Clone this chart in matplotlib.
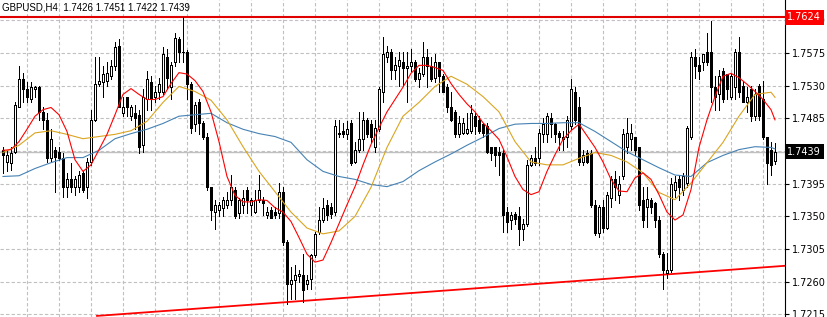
import numpy as np
import matplotlib
matplotlib.use("Agg")
import matplotlib.pyplot as plt

# GBPUSD H4 candles (prices)
symbol = "GBPUSD,H4"

opens = [
    1.7442, 1.7425, 1.7424, 1.7439, 1.7501, 1.7539, 1.7526, 1.7511, 1.7525, 1.7528,
    1.7494, 1.7483, 1.7431, 1.7442, 1.7439, 1.7431, 1.7390, 1.7401, 1.7390, 1.7390,
    1.7410, 1.7391, 1.7425, 1.7483, 1.7533, 1.7535, 1.7536, 1.7543, 1.7557, 1.7584,
    1.7493, 1.7514, 1.7488, 1.7493, 1.7490, 1.7449, 1.7511, 1.7535, 1.7514, 1.7521,
    1.7521, 1.7570, 1.7528, 1.7562, 1.7594, 1.7577, 1.7576, 1.7532, 1.7477, 1.7508,
    1.7479, 1.7460, 1.7390, 1.7356, 1.7359, 1.7362, 1.7366, 1.7373, 1.7387, 1.7355,
    1.7366, 1.7387, 1.7366, 1.7356, 1.7373, 1.7373, 1.7352, 1.7359, 1.7356, 1.7355,
    1.7384, 1.7315, 1.7257, 1.7263, 1.7268, 1.7269, 1.7257, 1.7264, 1.7297, 1.7329,
    1.7345, 1.7366, 1.7363, 1.7356, 1.7463, 1.7467, 1.7463, 1.7479, 1.7425, 1.7442,
    1.7456, 1.7483, 1.7477, 1.7446, 1.7470, 1.7522, 1.7570, 1.7576, 1.7552, 1.7557,
    1.7563, 1.7555, 1.7557, 1.7563, 1.7539, 1.7546, 1.7569, 1.7557, 1.7541, 1.7563,
    1.7543, 1.7528, 1.7500, 1.7494, 1.7463, 1.7465, 1.7465, 1.7467, 1.7488, 1.7483,
    1.7477, 1.7474, 1.7445, 1.7445, 1.7439, 1.7438, 1.7356, 1.7345, 1.7354, 1.7350,
    1.7332, 1.7340, 1.7421, 1.7431, 1.7431, 1.7463, 1.7463, 1.7486, 1.7477, 1.7465,
    1.7456, 1.7459, 1.7474, 1.7522, 1.7501, 1.7425, 1.7438, 1.7438, 1.7366, 1.7327,
    1.7363, 1.7334, 1.7376, 1.7401, 1.7380, 1.7405, 1.7445, 1.7456, 1.7459, 1.7445,
    1.7373, 1.7363, 1.7373, 1.7369, 1.7345, 1.7298, 1.7272, 1.7276, 1.7387, 1.7401,
    1.7387, 1.7396, 1.7460, 1.7570, 1.7559, 1.7562, 1.7577, 1.7577, 1.7528, 1.7518,
    1.7550, 1.7546, 1.7515, 1.7528, 1.7577, 1.7529, 1.7508, 1.7525, 1.7488, 1.7529,
    1.7511, 1.7459, 1.7442, 1.7426,
]
highs = [
    1.7445, 1.7442, 1.7446, 1.7508, 1.7557, 1.7548, 1.7535, 1.7535, 1.7529, 1.7529,
    1.7501, 1.7493, 1.7470, 1.7446, 1.7445, 1.7438, 1.7410, 1.7424, 1.7405, 1.7412,
    1.7412, 1.7431, 1.7497, 1.7570, 1.7570, 1.7557, 1.7562, 1.7566, 1.7590, 1.7594,
    1.7515, 1.7515, 1.7504, 1.7504, 1.7497, 1.7525, 1.7550, 1.7543, 1.7529, 1.7541,
    1.7583, 1.7580, 1.7562, 1.7603, 1.7597, 1.7624, 1.7579, 1.7535, 1.7507, 1.7511,
    1.7481, 1.7465, 1.7391, 1.7373, 1.7370, 1.7377, 1.7383, 1.7407, 1.7391, 1.7376,
    1.7387, 1.7390, 1.7376, 1.7387, 1.7407, 1.7377, 1.7363, 1.7363, 1.7363, 1.7396,
    1.7391, 1.7318, 1.7281, 1.7283, 1.7276, 1.7298, 1.7269, 1.7298, 1.7329, 1.7363,
    1.7376, 1.7373, 1.7369, 1.7483, 1.7483, 1.7479, 1.7481, 1.7483, 1.7452, 1.7494,
    1.7494, 1.7486, 1.7483, 1.7483, 1.7528, 1.7597, 1.7584, 1.7580, 1.7569, 1.7577,
    1.7576, 1.7577, 1.7580, 1.7566, 1.7555, 1.7590, 1.7580, 1.7569, 1.7573, 1.7563,
    1.7546, 1.7532, 1.7521, 1.7497, 1.7488, 1.7486, 1.7493, 1.7504, 1.7493, 1.7488,
    1.7479, 1.7479, 1.7446, 1.7446, 1.7446, 1.7442, 1.7363, 1.7356, 1.7356, 1.7363,
    1.7347, 1.7428, 1.7435, 1.7445, 1.7470, 1.7486, 1.7493, 1.7493, 1.7479, 1.7467,
    1.7467, 1.7488, 1.7539, 1.7528, 1.7514, 1.7442, 1.7442, 1.7442, 1.7373, 1.7366,
    1.7373, 1.7383, 1.7405, 1.7412, 1.7405, 1.7470, 1.7486, 1.7477, 1.7460, 1.7446,
    1.7391, 1.7391, 1.7376, 1.7370, 1.7350, 1.7301, 1.7300, 1.7403, 1.7405, 1.7407,
    1.7410, 1.7474, 1.7577, 1.7580, 1.7570, 1.7573, 1.7603, 1.7619, 1.7543, 1.7552,
    1.7555, 1.7546, 1.7546, 1.7580, 1.7597, 1.7536, 1.7528, 1.7529, 1.7525, 1.7532,
    1.7536, 1.7459, 1.7452, 1.7451,
]
lows = [
    1.7410, 1.7412, 1.7414, 1.7438, 1.7500, 1.7508, 1.7507, 1.7508, 1.7515, 1.7483,
    1.7470, 1.7425, 1.7425, 1.7383, 1.7428, 1.7377, 1.7377, 1.7383, 1.7380, 1.7384,
    1.7384, 1.7376, 1.7421, 1.7481, 1.7529, 1.7515, 1.7529, 1.7539, 1.7552, 1.7500,
    1.7488, 1.7488, 1.7483, 1.7470, 1.7438, 1.7439, 1.7497, 1.7497, 1.7507, 1.7511,
    1.7518, 1.7525, 1.7511, 1.7557, 1.7562, 1.7562, 1.7511, 1.7465, 1.7467, 1.7463,
    1.7456, 1.7387, 1.7345, 1.7332, 1.7350, 1.7350, 1.7362, 1.7366, 1.7348, 1.7348,
    1.7355, 1.7355, 1.7352, 1.7355, 1.7370, 1.7352, 1.7348, 1.7348, 1.7348, 1.7348,
    1.7311, 1.7230, 1.7236, 1.7236, 1.7260, 1.7232, 1.7250, 1.7250, 1.7294, 1.7326,
    1.7343, 1.7345, 1.7348, 1.7352, 1.7459, 1.7459, 1.7456, 1.7421, 1.7424, 1.7439,
    1.7442, 1.7460, 1.7452, 1.7439, 1.7467, 1.7508, 1.7562, 1.7539, 1.7539, 1.7529,
    1.7529, 1.7508, 1.7550, 1.7536, 1.7528, 1.7543, 1.7528, 1.7536, 1.7535, 1.7522,
    1.7521, 1.7494, 1.7481, 1.7460, 1.7460, 1.7463, 1.7463, 1.7465, 1.7463, 1.7465,
    1.7459, 1.7438, 1.7428, 1.7419, 1.7407, 1.7329, 1.7329, 1.7332, 1.7339, 1.7311,
    1.7318, 1.7337, 1.7419, 1.7421, 1.7421, 1.7453, 1.7452, 1.7460, 1.7452, 1.7442,
    1.7442, 1.7446, 1.7470, 1.7477, 1.7421, 1.7421, 1.7424, 1.7363, 1.7325, 1.7322,
    1.7329, 1.7332, 1.7363, 1.7373, 1.7369, 1.7401, 1.7438, 1.7442, 1.7435, 1.7359,
    1.7336, 1.7336, 1.7355, 1.7336, 1.7294, 1.7250, 1.7265, 1.7274, 1.7377, 1.7373,
    1.7380, 1.7391, 1.7456, 1.7541, 1.7539, 1.7552, 1.7559, 1.7507, 1.7497, 1.7497,
    1.7508, 1.7511, 1.7511, 1.7511, 1.7515, 1.7507, 1.7494, 1.7481, 1.7483, 1.7483,
    1.7456, 1.7394, 1.7407, 1.7422,
]
closes = [
    1.7434, 1.7435, 1.7438, 1.7504, 1.7539, 1.7525, 1.7514, 1.7528, 1.7528, 1.7494,
    1.7483, 1.7431, 1.7456, 1.7432, 1.7431, 1.7390, 1.7401, 1.7390, 1.7401, 1.7407,
    1.7387, 1.7425, 1.7483, 1.7532, 1.7536, 1.7546, 1.7548, 1.7557, 1.7583, 1.7501,
    1.7501, 1.7500, 1.7501, 1.7486, 1.7445, 1.7514, 1.7539, 1.7511, 1.7521, 1.7532,
    1.7573, 1.7541, 1.7559, 1.7595, 1.7576, 1.7576, 1.7532, 1.7472, 1.7504, 1.7479,
    1.7460, 1.7391, 1.7359, 1.7366, 1.7366, 1.7373, 1.7373, 1.7390, 1.7350, 1.7373,
    1.7376, 1.7373, 1.7373, 1.7373, 1.7387, 1.7369, 1.7356, 1.7348, 1.7352, 1.7383,
    1.7315, 1.7257, 1.7263, 1.7269, 1.7271, 1.7249, 1.7263, 1.7297, 1.7326, 1.7345,
    1.7362, 1.7352, 1.7354, 1.7474, 1.7465, 1.7463, 1.7470, 1.7424, 1.7442, 1.7456,
    1.7483, 1.7463, 1.7459, 1.7472, 1.7525, 1.7573, 1.7576, 1.7552, 1.7559, 1.7565,
    1.7555, 1.7557, 1.7563, 1.7539, 1.7548, 1.7569, 1.7557, 1.7539, 1.7562, 1.7543,
    1.7522, 1.7500, 1.7483, 1.7463, 1.7479, 1.7479, 1.7470, 1.7493, 1.7474, 1.7467,
    1.7465, 1.7439, 1.7438, 1.7435, 1.7435, 1.7352, 1.7343, 1.7352, 1.7347, 1.7332,
    1.7339, 1.7421, 1.7431, 1.7424, 1.7465, 1.7477, 1.7488, 1.7477, 1.7463, 1.7459,
    1.7459, 1.7483, 1.7525, 1.7483, 1.7425, 1.7435, 1.7425, 1.7366, 1.7327, 1.7363,
    1.7334, 1.7380, 1.7401, 1.7391, 1.7394, 1.7463, 1.7465, 1.7465, 1.7442, 1.7366,
    1.7345, 1.7374, 1.7363, 1.7345, 1.7298, 1.7276, 1.7276, 1.7394, 1.7398, 1.7390,
    1.7405, 1.7472, 1.7569, 1.7557, 1.7550, 1.7573, 1.7562, 1.7528, 1.7514, 1.7543,
    1.7511, 1.7525, 1.7543, 1.7577, 1.7522, 1.7508, 1.7515, 1.7488, 1.7518, 1.7488,
    1.7459, 1.7424, 1.7421, 1.7439,
]

# moving averages as drawn on the chart (sampled at bar numbers)
ma_fast_bars = list(range(0, 193, 2)) + [193]
ma_fast = [
    1.7441, 1.7442, 1.7453, 1.7470, 1.7488, 1.7497, 1.7500, 1.7490, 1.7467, 1.7428,
    1.7412, 1.7421, 1.7442, 1.7463, 1.7490, 1.7518, 1.7526, 1.7518, 1.7511, 1.7511,
    1.7515, 1.7533, 1.7548, 1.7546, 1.7537, 1.7522, 1.7494, 1.7453, 1.7405, 1.7379,
    1.7370, 1.7370, 1.7373, 1.7372, 1.7362, 1.7356, 1.7343, 1.7321, 1.7298, 1.7287,
    1.7290, 1.7314, 1.7340, 1.7366, 1.7391, 1.7421, 1.7449, 1.7472, 1.7494, 1.7511,
    1.7528, 1.7547, 1.7558, 1.7558, 1.7555, 1.7551, 1.7533, 1.7518, 1.7505, 1.7494,
    1.7479, 1.7468, 1.7456, 1.7432, 1.7405, 1.7387, 1.7380, 1.7384, 1.7412, 1.7435,
    1.7456, 1.7468, 1.7477, 1.7461, 1.7445, 1.7425, 1.7401, 1.7385, 1.7384, 1.7403,
    1.7410, 1.7401, 1.7380, 1.7356, 1.7345, 1.7352, 1.7387, 1.7445, 1.7483, 1.7515,
    1.7543, 1.7547, 1.7541, 1.7532, 1.7522, 1.7511, 1.7497, 1.7483,
]
ma_bars = list(range(0, 193, 4)) + [193]
ma_mid = [
    1.7438, 1.7448, 1.7465, 1.7468, 1.7463, 1.7457, 1.7460, 1.7463, 1.7468, 1.7481,
    1.7507, 1.7529, 1.7522, 1.7510, 1.7483, 1.7446, 1.7412, 1.7384, 1.7356, 1.7334,
    1.7326, 1.7330, 1.7350, 1.7390, 1.7445, 1.7488, 1.7507, 1.7529, 1.7543, 1.7532,
    1.7515, 1.7494, 1.7453, 1.7425, 1.7421, 1.7421, 1.7430, 1.7438, 1.7434, 1.7425,
    1.7410, 1.7383, 1.7373, 1.7396, 1.7424, 1.7452, 1.7488, 1.7518, 1.7521, 1.7514,
]
ma_slow = [
    1.7405, 1.7406, 1.7416, 1.7424, 1.7431, 1.7431, 1.7441, 1.7457, 1.7464, 1.7470,
    1.7478, 1.7488, 1.7490, 1.7492, 1.7479, 1.7470, 1.7464, 1.7460, 1.7452, 1.7428,
    1.7412, 1.7405, 1.7401, 1.7394, 1.7391, 1.7398, 1.7413, 1.7425, 1.7436, 1.7448,
    1.7459, 1.7471, 1.7477, 1.7478, 1.7478, 1.7479, 1.7479, 1.7467, 1.7453, 1.7439,
    1.7428, 1.7417, 1.7407, 1.7405, 1.7424, 1.7434, 1.7442, 1.7446, 1.7445, 1.7443,
]

# drawn objects: resistance level and rising trend line
resistance = 1.7624
trend_bars = [23.5, 195.5]
trend_prices = [1.7213, 1.7282]
bid = closes[-1]

price_ticks = [1.7215, 1.7260, 1.7305, 1.7350, 1.7395, 1.7440, 1.7485, 1.7530, 1.7575, 1.7620]

fig = plt.figure(figsize=(8.28, 3.17), dpi=100)
ax = fig.add_axes([0, 0, 785 / 828, 1])

x = np.arange(len(opens))
o = np.array(opens)
c = np.array(closes)
up = c >= o

ax.vlines(x, lows, highs, color="black", lw=0.7, zorder=3, antialiased=False)
ax.bar(x[up], (c - o)[up], bottom=o[up], width=0.45, facecolor="white",
       edgecolor="black", lw=0.6, zorder=4, antialiased=False)
ax.bar(x[~up], (o - c)[~up], bottom=c[~up], width=0.45, facecolor="black",
       edgecolor="black", lw=0.6, zorder=4, antialiased=False)

ax.plot(ma_bars, ma_slow, color="#4682b4", lw=0.8, zorder=5)
ax.plot(ma_bars, ma_mid, color="#daa520", lw=0.8, zorder=5)
ax.plot(ma_fast_bars, ma_fast, color="#ff0000", lw=0.8, zorder=5)

ax.axhline(bid, color="#c0c0c0", lw=1.0, zorder=1)
ax.axhline(resistance, color="#e00000", lw=1.5, zorder=2)
ax.plot(trend_bars, trend_prices, color="#ff0000", lw=1.3, zorder=2)

ax.set_xlim(-0.75, 195.5)
ax.set_ylim(1.72115, 1.7648)

ax.set_xticks(np.arange(6, 195, 8))
ax.set_yticks(price_ticks)
# the bid box covers the 1.7440 label on the scale
ax.set_yticklabels(["" if abs(p - bid) < 0.0003 else f"{p:.4f}" for p in price_ticks])
ax.grid(True, color="#c0c0c0", linestyle=(0, (3, 2)), lw=0.8, zorder=0)
ax.tick_params(axis="x", length=0, labelbottom=False)
ax.yaxis.tick_right()
ax.tick_params(axis="y", direction="out", length=3, width=0.8, pad=2,
               labelsize=7, colors="black")

for side in ["top", "left", "bottom"]:
    ax.spines[side].set_visible(False)
ax.spines["right"].set_linewidth(0.8)

ax.text(2 / 785, 1 - 8 / 317,
        f"{symbol}  {opens[-1]:.4f} {highs[-1]:.4f} {lows[-1]:.4f} {closes[-1]:.4f}",
        transform=ax.transAxes, fontsize=7, family="Liberation Sans",
        va="center", ha="left", zorder=6)

# price boxes on the scale
trans = ax.get_yaxis_transform()
ax.text(1.003, resistance, f"{resistance:.4f}", transform=trans, fontsize=7,
        color="white", va="center", ha="left", clip_on=False, zorder=10,
        bbox=dict(boxstyle="square,pad=0.25", facecolor="#ff0000", edgecolor="none"))
ax.text(1.003, bid, f"{bid:.4f}", transform=trans, fontsize=7,
        color="white", va="center", ha="left", clip_on=False, zorder=10,
        bbox=dict(boxstyle="square,pad=0.25", facecolor="black", edgecolor="none"))

fig.savefig("out.png", dpi=100, facecolor="white")
